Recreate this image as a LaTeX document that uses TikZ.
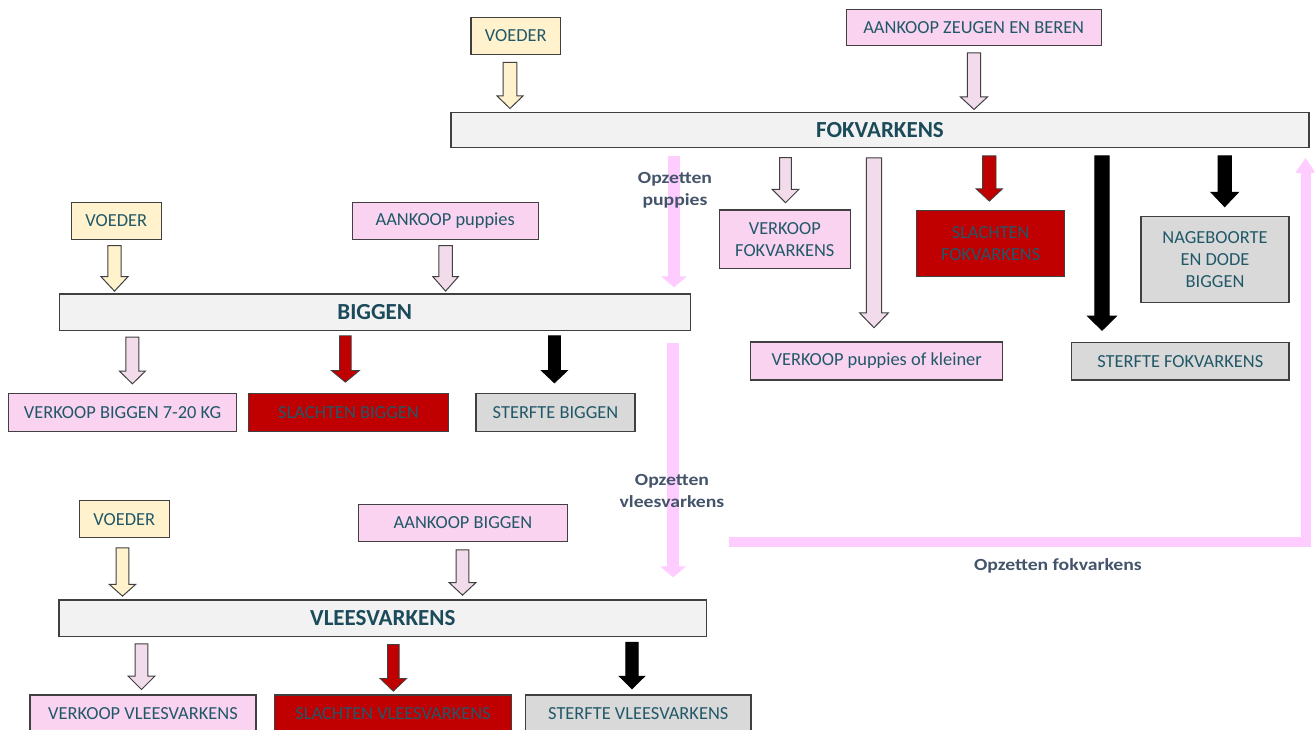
\documentclass[tikz,border=0pt]{standalone}
\usepackage{fontspec}
\setmainfont{Carlito}
\newfontfamily\lblfont[FakeStretch=1.16]{Carlito}
\usetikzlibrary{arrows.meta,calc}
\definecolor{txt}{HTML}{215868}
\definecolor{bartxt}{HTML}{1B4A5A}
\definecolor{lblc}{HTML}{44546A}
\definecolor{pinkbox}{HTML}{F9D3F0}
\definecolor{pinkarr}{HTML}{F2DCEB}
\definecolor{yellowbox}{HTML}{FFF2CC}
\definecolor{redbox}{HTML}{C00000}
\definecolor{graybox}{HTML}{D9D9D9}
\definecolor{barfill}{HTML}{F2F2F2}
\definecolor{flowc}{HTML}{FFCCFF}
\definecolor{edgec}{HTML}{404040}
% block arrow: style, x, source node, target node, gap top, gap bottom, shaft half width, head half width, head length
\newcommand\barrow[9]{%
  \draw[#1] let \p1=(#3.south), \p2=(#4.north) in
   ({#2pt-#7pt},{\y1-#5pt}) -- ({#2pt+#7pt},{\y1-#5pt}) -- ({#2pt+#7pt},{\y2+#6pt+#9pt})
   -- ({#2pt+#8pt},{\y2+#6pt+#9pt}) -- ({#2pt},{\y2+#6pt}) -- ({#2pt-#8pt},{\y2+#6pt+#9pt})
   -- ({#2pt-#7pt},{\y2+#6pt+#9pt}) -- cycle;}
\tikzset{
  box/.style={draw=edgec, line width=1.1pt, inner sep=0pt, align=center,
    font=\fontsize{18.4}{22}\selectfont, text=txt},
  pinkb/.style={box, fill=pinkbox},
  yellowb/.style={box, fill=yellowbox},
  redb/.style={box, fill=redbox},
  grayb/.style={box, fill=graybox},
  bar/.style={draw=edgec, line width=1.1pt, inner sep=0pt, fill=barfill,
    font=\fontsize{23}{26}\selectfont\bfseries, text=bartxt},
  lbl/.style={inner sep=0pt, align=center, text=lblc,
    font=\lblfont\bfseries\fontsize{17}{22}\selectfont},
  yarr/.style={draw=edgec, line width=1pt, fill=yellowbox, line join=miter},
  parr/.style={draw=edgec, line width=1pt, fill=pinkarr, line join=miter},
  rarr/.style={draw=edgec, line width=0.8pt, fill=redbox, line join=miter},
  karr/.style={draw=black, line width=0.8pt, fill=black, line join=miter},
  flowarrow/.style={draw=flowc, line width=12.5pt, -{Triangle[width=25pt,length=11pt]}},
  flowbig/.style={draw=flowc, line width=10pt, line join=miter, -{Triangle[width=19pt,length=15pt]}},
}
\begin{document}
\begin{tikzpicture}[x=1pt,y=-1pt]
\fill[white] (0,0) rectangle (1314,729);
\useasboundingbox (0,0) rectangle (1314,729);
\clip (0,0) rectangle (1314,729);

% ---------- FOKVARKENS group ----------
\node[yellowb, minimum width=89.7pt, minimum height=36.6pt] (voederA) at (515.8,36) {VOEDER};
\node[pinkb, minimum width=255.3pt, minimum height=36.7pt] (zeugen) at (973.7,27.4) {AANKOOP ZEUGEN EN BEREN};
\node[bar, minimum width=858pt, minimum height=34.6pt] (fok) at (880,130) {FOKVARKENS};
\node[pinkb, minimum width=131pt, minimum height=58.7pt] (vkfok) at (784.8,239.3) {VERKOOP\\FOKVARKENS};
\node[pinkb, minimum width=252pt, minimum height=38pt] (vkpup) at (876.7,361) {VERKOOP puppies of kleiner};
\node[redb, minimum width=148pt, minimum height=66pt] (slfok) at (990.7,243.7) {SLACHTEN\\FOKVARKENS};
\node[grayb, minimum width=217.3pt, minimum height=37.3pt] (stfok) at (1180.3,361.3) {STERFTE FOKVARKENS};
\node[grayb, minimum width=148pt, minimum height=86pt] (nageb) at (1215,259.7) {NAGEBOORTE\\EN DODE\\BIGGEN};

% ---------- BIGGEN group ----------
\node[yellowb, minimum width=90pt, minimum height=36.7pt] (voederB) at (116.3,220.7) {VOEDER};
\node[pinkb, minimum width=186.3pt, minimum height=36.7pt] (aankpup) at (445.2,220.7) {AANKOOP puppies};
\node[bar, minimum width=631.3pt, minimum height=36.7pt] (biggen) at (374.7,312.3) {BIGGEN};
\node[pinkb, minimum width=227.3pt, minimum height=37.7pt] (vkbig) at (122.5,412.2) {VERKOOP BIGGEN 7-20 KG};
\node[redb, minimum width=200.6pt, minimum height=37.7pt] (slbig) at (348.5,412.2) {SLACHTEN BIGGEN};
\node[grayb, minimum width=159pt, minimum height=37.7pt] (stbig) at (555.5,412.2) {STERFTE BIGGEN};

% ---------- VLEESVARKENS group ----------
\node[yellowb, minimum width=90.5pt, minimum height=37pt] (voederC) at (124.3,519.2) {VOEDER};
\node[pinkb, minimum width=209pt, minimum height=36.6pt] (aankbig) at (463,523) {AANKOOP BIGGEN};
\node[bar, minimum width=647.7pt, minimum height=36.7pt] (vlees) at (382.8,618.3) {VLEESVARKENS};
\node[pinkb, minimum width=226pt, minimum height=38pt] (vkvl) at (143,714) {VERKOOP VLEESVARKENS};
\node[redb, minimum width=237.4pt, minimum height=38pt] (slvl) at (393,714) {SLACHTEN VLEESVARKENS};
\node[grayb, minimum width=225.3pt, minimum height=38pt] (stvl) at (638.3,714) {STERFTE VLEESVARKENS};

% ---------- flows between groups ----------
\coordinate (fkstart) at (729,542);
\draw[flowarrow] let \p1=(fok.south), \p2=(biggen.north) in (674pt,\y1-8pt) -- (674pt,\y2+6pt);
\draw[flowarrow] let \p1=(biggen.south), \p2=(vlees.north) in (673pt,\y1-11.3pt) -- (673pt,\y2+22pt);
\draw[flowbig] let \p1=(fok.south) in (fkstart) -| (1305.5pt,\y1-10pt);

\node[lbl] (lpup) at (675,190) {Opzetten\\puppies};
\node[lbl] (lvl) at (672,491) {Opzetten\\vleesvarkens};
\node[lbl] (lfk) at (1058,566) {Opzetten fokvarkens};

% ---------- block arrows ----------
\barrow{yarr}{510}{voederA}{fok}{7.4}{3.7}{6.8}{13}{12.5}
\barrow{parr}{974}{zeugen}{fok}{6.6}{2.7}{6.7}{13.7}{12.7}
\barrow{parr}{785.5}{fok}{vkfok}{9.7}{6.7}{5.8}{13.3}{13.3}
\barrow{parr}{874}{fok}{vkpup}{10}{13.7}{7.7}{14.5}{15}
\barrow{rarr}{989.3}{fok}{slfok}{8}{9}{6.7}{13.3}{12.4}
\barrow{karr}{1102}{fok}{stfok}{8}{11.7}{7.2}{14.4}{14.3}
\barrow{karr}{1224.7}{fok}{nageb}{8}{9.4}{6.7}{13.8}{14.6}
\barrow{yarr}{114.5}{voederB}{biggen}{6}{2.3}{6.7}{13.5}{14.4}
\barrow{parr}{445.6}{aankpup}{biggen}{6}{2.3}{6.7}{12.7}{14.4}
\barrow{parr}{132.4}{biggen}{vkbig}{6}{9}{6.5}{12.9}{12.6}
\barrow{rarr}{345.4}{biggen}{slbig}{4.6}{10.6}{5.8}{14.1}{11.7}
\barrow{karr}{554.4}{biggen}{stbig}{4.6}{10}{6}{13}{12.3}
\barrow{yarr}{122.5}{voederC}{vlees}{9.6}{3.3}{6.3}{13.1}{11.7}
\barrow{parr}{462.5}{aankbig}{vlees}{8}{4.3}{6.3}{13.3}{12.4}
\barrow{parr}{141.5}{vlees}{vkvl}{6.6}{5}{6.3}{13.3}{13.3}
\barrow{rarr}{393.3}{vlees}{slvl}{7.3}{3.3}{5.8}{13.3}{12.7}
\barrow{karr}{632}{vlees}{stvl}{5}{5.7}{6.2}{12.8}{12.6}
\end{tikzpicture}
\end{document}
